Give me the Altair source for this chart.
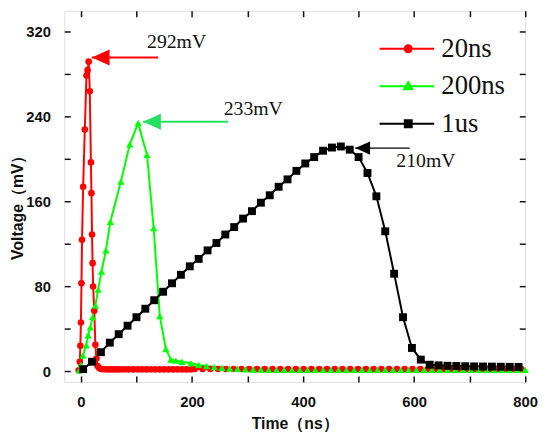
import altair as alt
import pandas as pd

# ---------------- data ----------------
series_names = ["20ns", "200ns", "1us"]
series_colors = ["#ff0000", "#00ff00", "#000000"]
series_shapes = ["circle", "triangle-up", "square"]
series_sizes = [45, 64, 64]

red_t = [-4, -2, -1, 0, 1, 2, 4, 7, 10, 12, 14, 16, 18, 19, 20, 21, 22, 24, 26, 28, 30, 33, 36, 40,
         46, 52, 58, 64, 70, 78, 86, 94, 102, 110, 118, 126, 134, 142, 150, 158, 166, 174, 182, 190, 198,
         205, 219, 233, 247, 261, 275, 289, 303, 317, 331, 345, 359, 373, 387, 401, 415, 429, 443, 457,
         471, 485, 499, 513, 527, 541, 555, 569, 583, 597, 611, 625, 639, 653, 667, 681, 695, 709, 723,
         737, 751, 765, 779, 793]
red_v = [1, 9, 24, 46, 83, 124, 174, 228, 279, 284, 292, 264, 197, 168, 129, 102, 80, 57, 25, 12, 5, 3, 2.2, 2,
         1.8, 1.8, 1.8, 1.8, 1.8, 1.8, 1.8, 1.8, 1.8, 1.8, 1.8, 1.8, 1.8, 1.8, 1.8, 1.8, 1.8, 1.8, 1.8, 1.8, 1.8,
         2.2, 2.2, 2.2, 2.2, 2.2, 2.2, 2.2, 2.2, 2.2, 2.2, 2.2, 2.2, 2.2, 2.2, 2.2, 2.2, 2.2, 2.2, 2.2,
         2.2, 2.2, 2.2, 2.2, 2.2, 2.2, 2.2, 2.2, 2.2, 2.2, 2.2, 2.2, 2.2, 2.2, 2.2, 2.2, 2.2, 2.2, 2.2,
         2.2, 2.2, 2.2, 2.2, 2.2]

green_t = [-3, 0, 3.5, 9.5, 13, 17, 21, 26, 31, 37, 45, 53, 72, 88, 103, 119, 131, 142, 153, 162, 171, 182, 198,
           212, 226, 240, 254, 268, 282, 296, 310, 324, 338, 352, 366, 380, 394, 408, 422, 436, 450, 464,
           478, 492, 506, 520, 534, 548, 562, 576, 590, 604, 618, 632, 646, 660, 674, 688, 702, 716, 730,
           744, 758, 772, 786, 800]
green_v = [1, 6, 15, 24.5, 34, 41.5, 51, 62, 77, 94, 114, 141, 179, 214, 234, 204, 135, 52, 21, 11, 10, 9, 7.5,
           6, 5, 4, 3.2, 2.6, 2.2, 1.9, 1.7, 1.5, 1.3, 1.3, 1.3, 1.3, 1.3, 1.3, 1.3, 1.3, 1.3, 1.3,
           1.3, 1.3, 1.3, 1.3, 1.3, 1.3, 1.3, 1.3, 1.3, 1.3, 1.3, 1.3, 1.3, 1.3, 1.3, 1.3, 1.3, 1.3, 1.3,
           1.3, 1.3, 1.3, 1.3, 1.3]

black_t = [4, 20, 36, 52, 68, 84, 100, 116, 132, 148, 164, 180, 196, 212, 228, 244, 260, 276, 292, 308,
           324, 340, 356, 372, 388, 404, 420, 436, 452, 468, 484, 500, 516, 532, 548, 564, 580, 596, 612,
           628, 644, 660, 676, 692, 708, 724, 740, 756, 772, 788]
black_v = [2, 9, 18, 27, 35, 43, 51, 59, 67, 75, 83, 91, 99, 106, 114, 121, 129, 136, 144, 151,
           159, 166, 174, 181, 189, 196, 202, 208, 211, 212, 209, 202, 187, 165, 132, 92, 51, 22, 11,
           6.2, 5.6, 5.2, 5, 4.8, 4.6, 4.5, 4.4, 4.3, 4.2, 4.1]

# annotations (arrow tip, arrow tail, level, label)
ann_tip_t = [19.6, 112, 494]
ann_tail_t = [139, 265, 592]
ann_v = [296, 235.3, 210.5]
ann_colors = ["#ff0000", "#22e060", "#000000"]
ann_widths = [2, 2, 1.2]
ann_head_sizes = [324, 324, 225]
ann_labels = ["292mV", "233mV", "210mV"]
ann_label_t = [119, 257, 568]
ann_label_v = [310.5, 247, 198]

x_major = [0, 200, 400, 600, 800]
x_minor = [100, 300, 500, 700]
y_major = [0, 80, 160, 240, 320]
y_minor = [40, 120, 200, 280]

# ---------------- tables ----------------
rows = []
for name, ts, vs in [(series_names[0], red_t, red_v),
                     (series_names[1], green_t, green_v),
                     (series_names[2], black_t, black_v)]:
    assert len(ts) == len(vs), name
    for i, (t, v) in enumerate(zip(ts, vs)):
        rows.append({"series": name, "t": t, "v": v, "order": i})
df = pd.DataFrame(rows)

ann = pd.DataFrame({
    "tip": ann_tip_t, "tail": ann_tail_t, "v": ann_v, "c": ann_colors,
    "w": ann_widths, "hs": ann_head_sizes, "label": ann_labels,
    "lt": ann_label_t, "lv": ann_label_v,
})

# ---------------- scales / axes ----------------
x_scale = alt.Scale(domain=[-30, 800], nice=False, zero=False)
y_scale = alt.Scale(domain=[-10, 340], nice=False, zero=False)
color_scale = alt.Scale(domain=series_names, range=series_colors)

AXFONT = "Liberation Sans"
tick_x = alt.ExprRef(expr="-6")
tick_y = alt.ExprRef(expr="-6")

common = dict(domain=False, grid=False, tickColor="#111", tickWidth=1.5,
              labelFont=AXFONT, labelFontWeight="bold", labelFontSize=15, labelColor="#111",
              labelFlush=False, labelOverlap=False,
              titleFont=AXFONT, titleFontWeight="bold", titleFontSize=16, titleColor="#111")

bottom_axis = alt.Axis(orient="bottom", values=x_major + x_minor, tickSize=tick_x,
                       labelExpr="datum.value % 200 === 0 ? datum.label : ''",
                       labelPadding=19, title="Time（ns）", titlePadding=6, **common)
left_axis = alt.Axis(orient="left", values=y_major + y_minor, tickSize=tick_y,
                     labelExpr="datum.value % 80 === 0 ? datum.label : ''",
                     labelPadding=20, title="Voltage（mV）",
                     titleX=-47, titleY=195, titleAlign="center", titleBaseline="middle",
                     titleAngle=270, **common)
top_axis = alt.Axis(orient="top", values=x_major + x_minor, tickSize=tick_x, labels=False, title=None,
                    domain=False, grid=False, tickColor="#111", tickWidth=1.5)
right_axis = alt.Axis(orient="right", values=y_major + y_minor, tickSize=tick_y, labels=False, title=None,
                      domain=False, grid=False, tickColor="#111", tickWidth=1.5)

# ---------------- layers ----------------
lines = alt.Chart(df).mark_line(strokeWidth=2).encode(
    x=alt.X("t:Q", scale=x_scale, axis=top_axis),
    y=alt.Y("v:Q", scale=y_scale, axis=right_axis),
    color=alt.Color("series:N", scale=color_scale, legend=None),
    order=alt.Order("order:Q"),
)

points = alt.Chart(df).mark_point(filled=True, opacity=1).encode(
    x=alt.X("t:Q", scale=x_scale, axis=bottom_axis),
    y=alt.Y("v:Q", scale=y_scale, axis=left_axis),
    color=alt.Color("series:N", scale=color_scale, legend=None),
    shape=alt.Shape("series:N", scale=alt.Scale(domain=series_names, range=series_shapes), legend=None),
    size=alt.Size("series:N", scale=alt.Scale(domain=series_names, range=series_sizes), legend=None),
)

legend_shapes = [
    "M-8.3,0L7.5,0M-1,0A1,1,0,1,1,1,0A1,1,0,1,1,-1,0Z",
    "M-8.3,0L7.5,0M0,-1.2L1.2,0.9L-1.2,0.9Z",
    "M-8.3,0L7.5,0M-1,-1L1,-1L1,1L-1,1Z",
]
leg = alt.Legend(title=None, orient="none", legendX=335, legendY=25, padding=0,
                 symbolSize=49, symbolStrokeWidth=2, symbolOpacity=1,
                 labelFont="Liberation Serif", labelFontSize=27, labelColor="#111",
                 labelOffset=20, rowPadding=10)
legend_layer = alt.Chart(df).transform_filter("false").mark_point(filled=True, opacity=1, strokeWidth=2).encode(
    x=alt.X("t:Q", scale=x_scale, axis=None),
    y=alt.Y("v:Q", scale=y_scale, axis=None),
    fill=alt.Fill("series:N", scale=alt.Scale(domain=series_names, range=series_colors), legend=leg),
    stroke=alt.Stroke("series:N", scale=alt.Scale(domain=series_names, range=series_colors), legend=leg),
    shape=alt.Shape("series:N", scale=alt.Scale(domain=series_names, range=legend_shapes), legend=leg),
)

arrows = alt.Chart(ann).mark_rule().encode(
    x=alt.X("tip:Q", scale=x_scale, axis=None),
    x2="tail:Q",
    y=alt.Y("v:Q", scale=y_scale, axis=None),
    color=alt.Color("c:N", scale=None),
    strokeWidth=alt.StrokeWidth("w:Q", scale=None),
)
heads = alt.Chart(ann).mark_point(shape="M0,0L2,-0.9L2,0.9Z", filled=True, opacity=1).encode(
    x=alt.X("tip:Q", scale=x_scale, axis=None),
    y=alt.Y("v:Q", scale=y_scale, axis=None),
    color=alt.Color("c:N", scale=None),
    size=alt.Size("hs:Q", scale=None),
)
labels = alt.Chart(ann).mark_text(align="left", baseline="middle", font="Liberation Serif",
                                  fontSize=20, color="#111").encode(
    x=alt.X("lt:Q", scale=x_scale, axis=None),
    y=alt.Y("lv:Q", scale=y_scale, axis=None),
    text="label:N",
)

chart = alt.layer(lines, points, legend_layer, arrows, heads, labels).resolve_axis(
    x="independent", y="independent"
).resolve_scale(
    fill="independent", stroke="independent", shape="independent"
).properties(
    width=467, height=376,
    padding={"left": 57, "top": 0, "right": 17, "bottom": 50},
    autosize=alt.AutoSizeParams(type="none"),
).configure_view(stroke="#111", strokeWidth=2).configure(background="white")

chart.save("out.html", embed_options={"renderer": "svg", "actions": False})
